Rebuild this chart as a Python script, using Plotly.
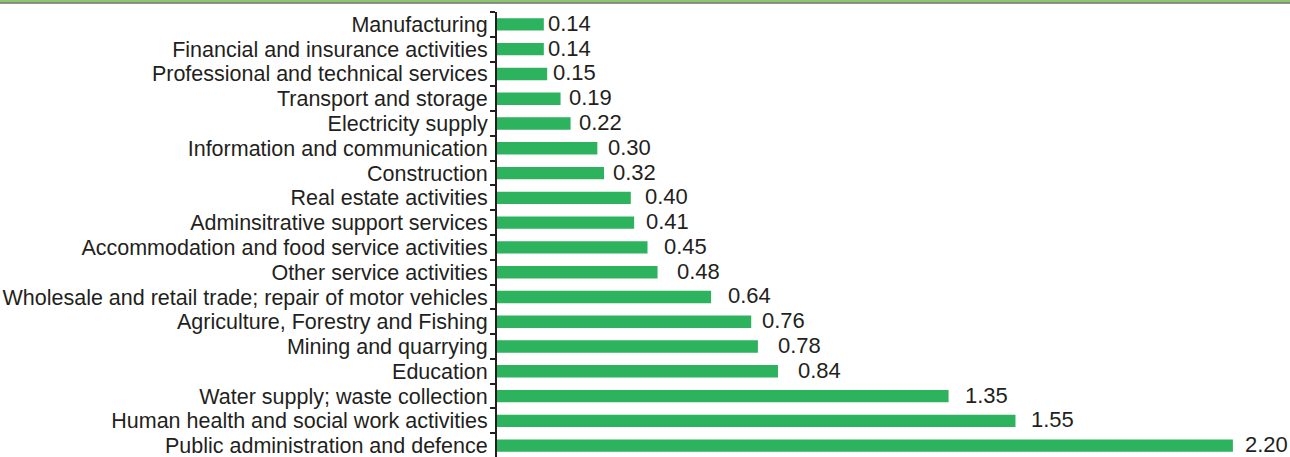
import plotly.graph_objects as go

categories = [
    "Manufacturing",
    "Financial and insurance activities",
    "Professional and technical services",
    "Transport and storage",
    "Electricity supply",
    "Information and communication",
    "Construction",
    "Real estate activities",
    "Adminsitrative support services",
    "Accommodation and food service activities",
    "Other service activities",
    "Wholesale and retail trade; repair of motor vehicles",
    "Agriculture, Forestry and Fishing",
    "Mining and quarrying",
    "Education",
    "Water supply; waste collection",
    "Human health and social work activities",
    "Public administration and defence",
]
values = [0.14, 0.14, 0.15, 0.19, 0.22, 0.30, 0.32, 0.40, 0.41, 0.45,
          0.48, 0.64, 0.76, 0.78, 0.84, 1.35, 1.55, 2.20]

# style: horizontal gap (px) between bar end and its value label, as in the original
label_gaps = [2, 2, 4, 6, 6, 9, 7, 12, 10, 14, 17, 15, 9, 18, 18, 14, 14, 10]

W, H = 1290, 457
left, top = 497, 12
plot_h = H - top
row_px = 24.78
y_bottom = -0.5 + plot_h / row_px
FONT = "Liberation Sans, Arial, Helvetica, sans-serif"
FS = 21.5
VFS = 22
INK = "#231f20"

fig = go.Figure(go.Bar(
    x=values, y=categories, orientation="h",
    marker=dict(color="#2db35d", line=dict(width=0)),
    width=0.5, hoverinfo="x+y",
))

annotations = [
    dict(x=v, y=c, xref="x", yref="y", text=f"{v:.2f}", showarrow=False,
         xanchor="left", yanchor="middle", xshift=g, yshift=1,
         font=dict(family=FONT, size=VFS, color=INK))
    for c, v, g in zip(categories, values, label_gaps)
]

fig.update_layout(
    width=W, height=H,
    margin=dict(l=left, r=0, t=top, b=0, autoexpand=False),
    paper_bgcolor="white", plot_bgcolor="white",
    showlegend=False,
    font=dict(family=FONT, size=FS, color=INK),
    xaxis=dict(range=[0, (W - left) / 334.5], visible=False, showgrid=False,
               zeroline=False, automargin=False),
    yaxis=dict(
        range=[y_bottom, -0.5], type="category", automargin=False,
        tickmode="linear", dtick=1, tick0=0,
        showline=True, linecolor=INK, linewidth=2,
        ticks="outside", ticklen=5, tickcolor=INK, tickwidth=2,
        tickson="boundaries", showgrid=False,
        tickfont=dict(family=FONT, size=FS, color=INK),
        ticklabelstandoff=3,
    ),
    annotations=annotations,
    shapes=[
        dict(type="rect", xref="paper", yref="paper", x0=-left / (W - left), x1=1.0,
             y0=1 + (top - 2.5) / plot_h, y1=1 + (top + 1) / plot_h,
             fillcolor="#8cc66b", line=dict(width=0), layer="above"),
        dict(type="line", xref="paper", yref="paper", x0=-left / (W - left), x1=1.0,
             y0=1 + (top - 3) / plot_h, y1=1 + (top - 3) / plot_h,
             line=dict(color="#6d6d6d", width=1.5)),
    ],
)

fig.write_html(
    "out.html",
    config={"displayModeBar": False},
    post_script="document.body.style.margin='0';document.body.style.overflow='hidden';",
)
